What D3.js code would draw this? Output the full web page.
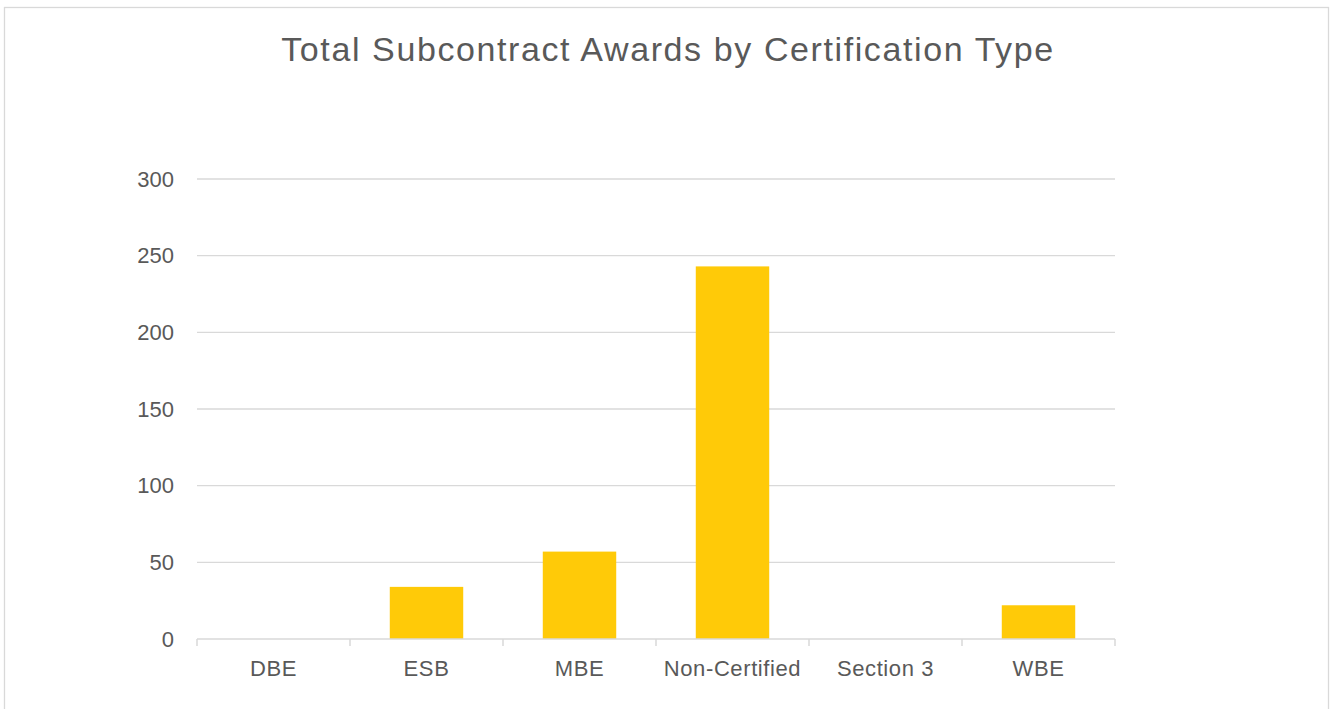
<!DOCTYPE html>
<html>
<head>
<meta charset="utf-8">
<script src="https://cdn.jsdelivr.net/npm/d3@7"></script>
<style>
  body { margin: 0; background: #fff; }
  svg text { font-family: "Liberation Sans", Arial, sans-serif; fill: #595959; }
  .axis path, .axis line { stroke: #d9d9d9; }
  .grid line { stroke: #d9d9d9; stroke-width: 1.3; }
</style>
</head>
<body>
<svg id="chart" width="1330" height="709"></svg>
<script>
'use strict';

// data
var categories = ["DBE", "ESB", "MBE", "Non-Certified", "Section 3", "WBE"],
    awards     = [0, 34, 57, 243, 0, 22],
    yTicks     = [0, 50, 100, 150, 200, 250, 300],
    title      = "Total Subcontract Awards by Certification Type";

var svg = d3.select("#chart"),
    margin = {top: 179, right: 215, bottom: 70, left: 197},
    width  = 1330 - margin.left - margin.right,
    height = 709 - margin.top - margin.bottom;

var x = d3.scaleBand().domain(categories).range([0, width]).paddingInner(0.52).paddingOuter(0.26),
    xTick = d3.scaleBand().domain(categories).range([0, width]),
    y = d3.scaleLinear().domain([0, 300]).range([height, 0]);

// chart frame
svg.append("rect")
    .attr("x", 4.5).attr("y", 7.5)
    .attr("width", 1324).attr("height", 720)
    .attr("fill", "none")
    .attr("stroke", "#d9d9d9")
    .attr("stroke-width", 1.3);

svg.append("text")
    .attr("x", 668)
    .attr("y", 61)
    .attr("text-anchor", "middle")
    .style("font-size", "34px")
    .style("letter-spacing", "1.6px")
    .text(title);

var g = svg.append("g")
    .attr("transform", "translate(" + margin.left + "," + margin.top + ")");

// gridlines
g.append("g")
    .attr("class", "grid")
    .selectAll("line")
    .data(yTicks.filter(function(d) { return d > 0; }))
    .enter().append("line")
      .attr("x1", 0).attr("x2", width)
      .attr("y1", function(d) { return y(d); })
      .attr("y2", function(d) { return y(d); });

// y labels
g.append("g")
    .attr("class", "axis axis--y")
    .call(d3.axisLeft(y).tickValues(yTicks).tickSize(0).tickPadding(23))
    .call(function(a) { a.select(".domain").remove(); })
  .selectAll("text")
    .style("font-size", "22px");

// bars
g.selectAll(".bar")
    .data(awards)
    .enter().append("rect")
      .attr("class", "bar")
      .attr("x", function(d, i) { return x(categories[i]); })
      .attr("width", x.bandwidth())
      .attr("y", function(d) { return y(d); })
      .attr("height", function(d) { return height - y(d); })
      .attr("fill", "#ffca08");

// x axis: baseline + boundary ticks
var xa = g.append("g")
    .attr("class", "axis axis--x")
    .attr("transform", "translate(0," + height + ")");

xa.append("line")
    .attr("x1", 0).attr("x2", width)
    .attr("stroke-width", 1.5);

xa.selectAll(".tick-mark")
    .data(d3.range(categories.length + 1))
    .enter().append("line")
      .attr("class", "tick-mark")
      .attr("x1", function(d) { return d * xTick.step(); })
      .attr("x2", function(d) { return d * xTick.step(); })
      .attr("y1", 0).attr("y2", 7)
      .attr("stroke-width", 1.5);

xa.selectAll(".label")
    .data(categories)
    .enter().append("text")
      .attr("class", "label")
      .attr("x", function(d) { return xTick(d) + xTick.bandwidth() / 2; })
      .attr("y", 37)
      .attr("text-anchor", "middle")
      .style("font-size", "22px")
      .style("letter-spacing", "0.6px")
      .text(function(d) { return d; });
</script>
</body>
</html>
